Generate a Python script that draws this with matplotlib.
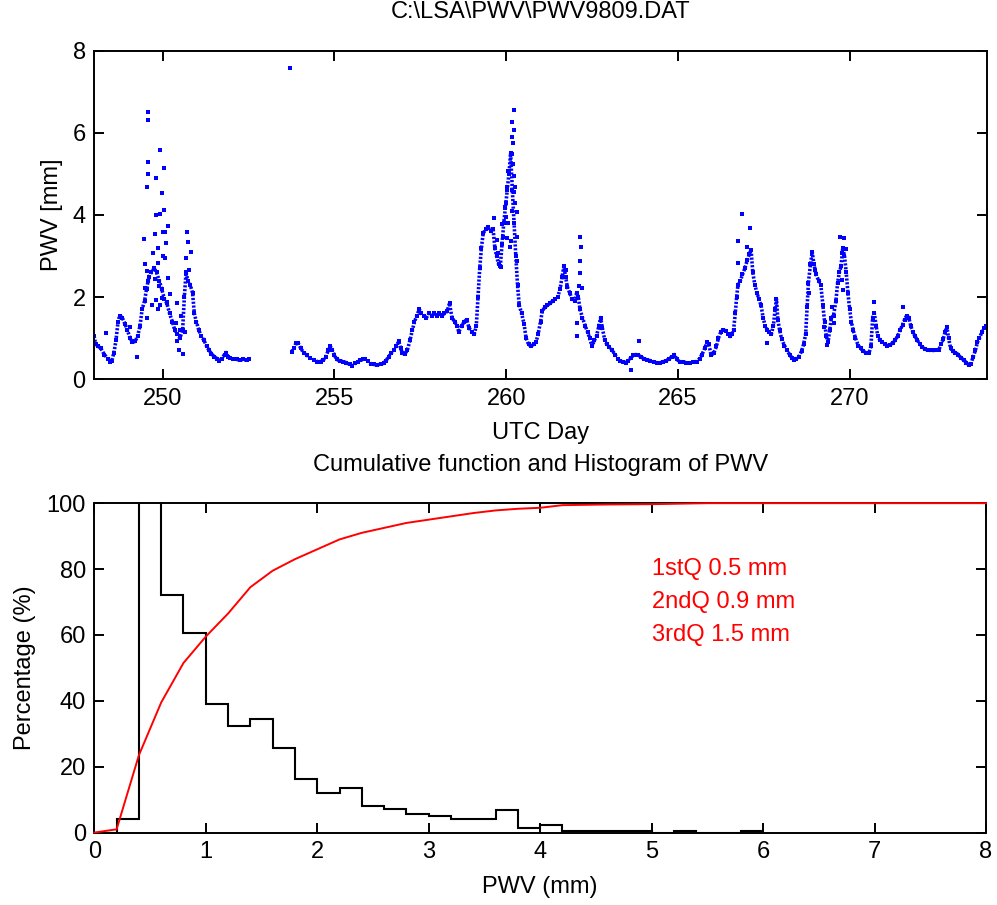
import numpy as np
import matplotlib
matplotlib.use("Agg")
import matplotlib.pyplot as plt

plt.rcParams['font.family'] = ['Liberation Sans', 'DejaVu Sans']

# ---------------- data: top panel (UTC day, PWV mm) ----------------
day_main = [
 248.00,248.05,248.12,248.20,248.30,248.40,248.47,248.52,248.58,248.64,248.70,248.75,248.82,248.90,248.97,
 249.05,249.12,249.20,249.27,249.34,249.40,249.47,249.53,249.60,249.67,249.75,249.82,249.90,249.97,
 250.05,250.12,250.20,250.28,250.35,250.42,250.50,250.58,250.63,250.68,250.73,250.80,250.87,250.92,250.98,
 251.05,251.12,251.20,251.28,251.35,251.42,251.50,251.58,251.65,251.72,251.80,251.85,251.90,251.97,
 252.05,252.15,252.25,252.35,252.45,252.52,252.60,
 253.75,253.82,253.88,253.95,254.02,254.10,254.20,254.30,254.40,254.50,254.60,254.68,254.75,254.82,254.88,254.94,
 255.00,255.07,255.15,255.25,255.35,255.45,255.52,255.60,255.68,255.75,255.82,255.90,255.97,
 256.05,256.15,256.25,256.35,256.43,256.50,256.58,256.65,256.72,256.80,256.87,256.93,256.98,
 257.05,257.12,257.20,257.27,257.33,257.40,257.47,257.53,257.60,257.68,257.75,257.83,257.90,257.98,
 258.05,258.12,258.20,258.28,258.35,258.42,258.50,258.57,258.62,258.70,258.78,258.85,258.92,
 259.00,259.07,259.13,259.18,259.23,259.28,259.33,259.40,259.47,259.55,259.62,259.67,259.72,259.78,259.83,259.88,259.93,259.98,
 260.03,260.08,260.13,260.18,260.23,260.28,260.33,260.38,260.45,260.52,260.58,260.65,260.72,260.80,260.87,260.93,
 261.00,261.05,261.12,261.20,261.28,261.35,261.42,261.50,261.57,261.63,261.68,261.73,261.78,261.85,261.92,
 262.00,262.05,262.10,262.15,262.22,262.30,262.37,262.43,262.50,262.57,262.63,262.70,262.75,262.80,262.87,262.93,
 263.00,263.08,263.17,263.25,263.32,263.40,263.48,263.55,263.63,263.70,263.78,263.85,263.92,
 264.00,264.10,264.20,264.30,264.40,264.48,264.57,264.65,264.75,264.83,264.90,264.97,
 265.05,265.15,265.25,265.35,265.45,265.55,265.63,265.70,265.78,265.85,265.90,265.97,
 266.05,266.12,266.18,266.25,266.32,266.40,266.47,266.52,266.57,266.62,266.67,266.71,266.75,266.82,266.88,266.95,
 267.02,267.08,267.13,267.18,267.24,267.30,267.36,267.42,267.48,267.54,267.60,267.66,267.72,267.78,267.83,267.87,267.91,267.96,
 268.02,268.10,268.17,268.25,268.32,268.38,268.45,268.52,268.60,268.66,268.72,268.76,268.80,268.86,268.91,268.96,
 269.02,269.10,269.16,269.22,269.27,269.32,269.37,269.42,269.47,269.53,269.60,269.65,269.70,269.75,269.80,269.85,269.90,269.95,
 270.00,270.05,270.10,270.17,270.25,270.32,270.40,270.48,270.56,270.62,270.67,270.72,270.77,270.82,270.88,270.95,
 271.03,271.10,271.18,271.25,271.32,271.40,271.47,271.54,271.60,271.66,271.72,271.78,271.84,271.90,271.97,
 272.05,272.12,272.20,272.28,272.36,272.44,272.52,272.60,272.66,272.72,272.78,272.83,272.88,272.94,
 273.00,273.08,273.16,273.24,273.32,273.40,273.47,273.53,273.60,273.66,273.72,273.78,273.85,273.92,273.98]
pwv_main = [
 1.05,0.85,0.80,0.75,0.60,0.50,0.42,0.45,0.65,0.95,1.40,1.55,1.50,1.35,1.20,
 1.00,0.90,0.92,1.05,1.30,1.70,1.90,2.20,2.50,2.60,2.70,2.60,2.40,2.20,
 1.95,1.85,1.60,1.40,1.20,1.10,1.00,1.20,2.00,2.60,2.40,2.30,2.10,1.60,1.40,
 1.20,1.05,0.95,0.80,0.70,0.62,0.55,0.50,0.45,0.50,0.60,0.65,0.55,0.52,
 0.50,0.48,0.47,0.48,0.46,0.50,np.nan,
 0.67,0.75,0.88,0.87,0.75,0.65,0.58,0.52,0.47,0.43,0.43,0.47,0.55,0.70,0.80,0.70,
 0.58,0.48,0.45,0.43,0.40,0.36,0.33,0.39,0.42,0.46,0.48,0.50,0.45,
 0.38,0.36,0.35,0.36,0.39,0.45,0.55,0.63,0.71,0.80,0.92,0.75,0.63,
 0.62,0.70,0.95,1.20,1.40,1.55,1.70,1.60,1.55,1.50,1.60,1.55,1.60,1.55,
 1.60,1.55,1.60,1.65,1.85,1.50,1.40,1.30,1.15,1.30,1.40,1.45,1.25,
 1.15,1.10,1.30,2.00,2.70,3.20,3.55,3.65,3.70,3.60,3.65,3.20,3.00,2.80,2.75,3.30,3.80,4.20,
 4.60,5.00,5.50,4.60,3.80,3.00,2.30,1.80,1.60,1.35,1.00,0.85,0.80,0.85,0.90,1.10,
 1.40,1.65,1.75,1.80,1.85,1.90,1.95,2.00,2.20,2.50,2.75,2.50,2.25,2.10,1.95,
 1.90,2.10,2.00,1.70,1.50,1.30,1.15,1.00,0.80,0.95,1.05,1.30,1.50,1.25,0.95,0.85,
 0.78,0.71,0.60,0.50,0.45,0.42,0.40,0.45,0.52,0.58,0.60,0.58,0.55,
 0.50,0.47,0.45,0.42,0.40,0.40,0.42,0.45,0.50,0.55,0.60,0.48,
 0.43,0.42,0.40,0.40,0.42,0.43,0.50,0.60,0.75,0.90,0.85,0.58,
 0.65,0.80,1.00,1.15,1.20,1.18,1.10,1.04,1.10,1.20,1.60,2.00,2.30,2.40,2.55,2.70,
 2.90,3.05,3.15,2.60,2.30,2.10,1.95,1.80,1.50,1.30,1.20,1.15,1.10,1.30,1.70,1.95,1.45,1.20,
 0.98,0.82,0.71,0.60,0.52,0.47,0.50,0.55,0.68,0.85,1.10,1.75,2.35,2.80,3.10,2.80,
 2.55,2.40,2.30,1.80,1.40,1.05,0.90,1.20,1.50,1.55,1.90,2.35,2.60,2.75,3.20,3.00,2.60,2.10,
 1.70,1.40,1.20,1.00,0.82,0.75,0.68,0.65,0.63,0.80,1.50,1.60,1.30,1.05,0.95,0.90,
 0.85,0.82,0.84,0.88,0.95,1.05,1.20,1.32,1.45,1.55,1.50,1.30,1.15,1.05,0.95,
 0.85,0.78,0.73,0.71,0.70,0.70,0.71,0.72,0.85,0.97,1.15,1.28,1.00,0.75,
 0.68,0.65,0.60,0.52,0.47,0.40,0.35,0.38,0.55,0.70,0.90,1.00,1.15,1.25,1.30]

# scattered individual readings (spikes / noisy periods)
day_scatter = [
 249.58,249.58,249.58,249.58,249.53,249.92,249.80,250.04,249.98,249.80,249.92,250.04,250.14,249.46,
 249.78,250.00,250.06,249.87,250.09,249.73,250.00,250.08,249.47,249.87,249.53,249.58,249.78,249.88,
 250.14,249.48,249.99,249.80,249.86,249.92,250.21,250.41,250.12,249.70,249.53,249.26,249.05,248.35,
 250.53,250.40,250.49,250.41,250.46,250.60,250.66,250.72,250.75,250.81,250.69,250.76,
 253.71,
 260.22,260.17,260.22,260.16,260.21,260.16,260.21,260.04,260.22,260.25,260.02,260.23,259.99,260.26,
 259.97,260.16,260.31,259.99,260.06,259.89,259.64,259.92,260.02,260.13,260.31,260.10,260.31,259.72,
 259.77,259.86,
 262.15,262.17,262.15,262.14,262.11,262.20,262.05,262.05,261.75,263.86,263.64,
 266.87,267.09,266.76,267.02,266.76,269.73,269.84,269.89,269.77,267.60,270.71,271.56,271.61,
 269.35,269.50,269.54,269.25,269.77,269.82,269.00,269.10,268.81]
pwv_scatter = [
 6.51,6.31,5.28,5.00,4.67,5.57,4.91,5.15,4.53,4.00,4.02,4.11,3.74,3.42,
 3.53,3.59,3.59,3.19,3.31,3.07,2.99,2.95,2.81,2.82,2.63,2.40,2.43,2.26,
 2.46,2.21,1.98,1.93,1.71,1.81,2.08,1.86,1.89,1.81,1.49,0.55,1.28,1.12,
 1.53,1.37,1.21,0.92,0.72,0.62,1.16,3.59,3.35,3.09,2.95,2.67,
 7.57,
 6.56,6.27,6.07,5.91,5.75,5.48,5.24,5.06,4.94,4.69,4.69,4.57,4.30,4.29,
 4.16,4.10,4.08,3.96,3.81,3.77,3.92,3.47,3.45,3.37,3.46,3.21,2.87,3.39,
 3.07,2.74,
 3.47,3.23,2.87,2.58,2.26,2.22,1.36,1.04,2.66,0.92,0.23,
 4.03,3.69,3.37,3.23,2.82,3.46,3.45,3.17,3.07,0.88,1.88,1.77,1.44,
 0.84,1.77,1.36,1.28,2.42,2.18,2.66,2.38,2.09]

top_xticks = [250, 255, 260, 265, 270]
top_yticks = [0, 2, 4, 6, 8]

# ---------------- data: bottom panel ----------------
hist_edges = [0.0,0.2,0.4,0.6,0.8,1.0,1.2,1.4,1.6,1.8,2.0,2.2,2.4,2.6,2.8,3.0,3.2,3.4,3.6,3.8,4.0,
              4.2,4.4,4.6,4.8,5.0,5.2,5.4,5.6,5.8,6.0]
hist_pct = [0.0,4.0,130.0,72.0,60.5,39.0,32.5,34.5,25.6,16.2,12.1,13.4,8.1,7.3,5.7,5.1,4.0,4.0,6.9,1.5,
            2.2,0.5,0.5,0.5,0.5,0.0,0.5,0.0,0.0,0.5]
cum_x = [0.0,0.2,0.4,0.6,0.8,1.0,1.2,1.4,1.6,1.8,2.0,2.2,2.4,2.6,2.8,3.0,3.2,3.4,3.6,3.8,4.0,4.2,4.6,5.0,5.5,8.0]
cum_pct = [0.0,1.0,23.5,39.5,51.5,59.5,66.5,74.5,79.5,83.0,86.0,89.0,91.0,92.5,94.0,95.0,96.0,97.0,
           97.8,98.3,98.6,99.4,99.6,99.7,100.0,100.0]
quartile_labels = ['1stQ 0.5 mm', '2ndQ 0.9 mm', '3rdQ 1.5 mm']
bottom_xticks = [0, 1, 2, 3, 4, 5, 6, 7, 8]
bottom_yticks = [0, 20, 40, 60, 80, 100]

# ---------------- figure ----------------
FS = 17
fig = plt.figure(figsize=(9.97, 9.05), dpi=100)
ax1 = fig.add_axes([0.0943, 0.581, 0.8957, 0.363])
ax2 = fig.add_axes([0.0946, 0.080, 0.8944, 0.364])

def style(ax):
    for s in ax.spines.values():
        s.set_linewidth(1.4)
        s.set_color('black')
    ax.tick_params(direction='in', length=7, width=1.4, top=True, right=True,
                   labelsize=FS, pad=6, colors='black')

# top panel
ax1.plot(day_main, pwv_main, color=(0, 0, 1), lw=2.6, ls=(0, (0.6, 0.45)))
ax1.plot(day_main, pwv_main, ls='none', marker='s', ms=2.2, mew=0, color=(0, 0, 1))
ax1.plot(day_scatter, pwv_scatter, ls='none', marker='s', ms=2.4, mew=0, color=(0, 0, 1))
ax1.set_xlim(248, 274)
ax1.set_ylim(0, 8)
ax1.set_xticks(top_xticks)
ax1.set_yticks(top_yticks)
style(ax1)
ax1.set_title('C:\\LSA\\PWV\\PWV9809.DAT', fontsize=FS, y=1.093, va='center')
ax1.set_xlabel('UTC Day', fontsize=FS, va='center')
ax1.xaxis.set_label_coords(0.5, -0.163)
ax1.set_ylabel('PWV [mm]', fontsize=FS, va='center')
ax1.yaxis.set_label_coords(-0.047, 0.5)

# bottom panel
ax2.stairs(hist_pct, hist_edges, color='black', lw=1.5, baseline=None)
ax2.plot(cum_x, cum_pct, color=(1, 0, 0), lw=1.4, zorder=3, clip_on=False)
ax2.set_xlim(0, 8)
ax2.set_ylim(0, 100)
ax2.set_xticks(bottom_xticks)
ax2.set_yticks(bottom_yticks)
style(ax2)
for i, lab in enumerate(quartile_labels):
    ax2.text(5.0, 80 - 10 * i, lab, color=(1, 0, 0), fontsize=FS, ha='left', va='center')
ax2.set_title('Cumulative function and Histogram of PWV', fontsize=FS, y=1.092, va='center')
ax2.set_xlabel('PWV (mm)', fontsize=FS, va='center')
ax2.xaxis.set_label_coords(0.5, -0.165)
ax2.set_ylabel('Percentage (%)', fontsize=FS, va='center')
ax2.yaxis.set_label_coords(-0.0777, 0.5)

fig.savefig('out.png', dpi=100)
